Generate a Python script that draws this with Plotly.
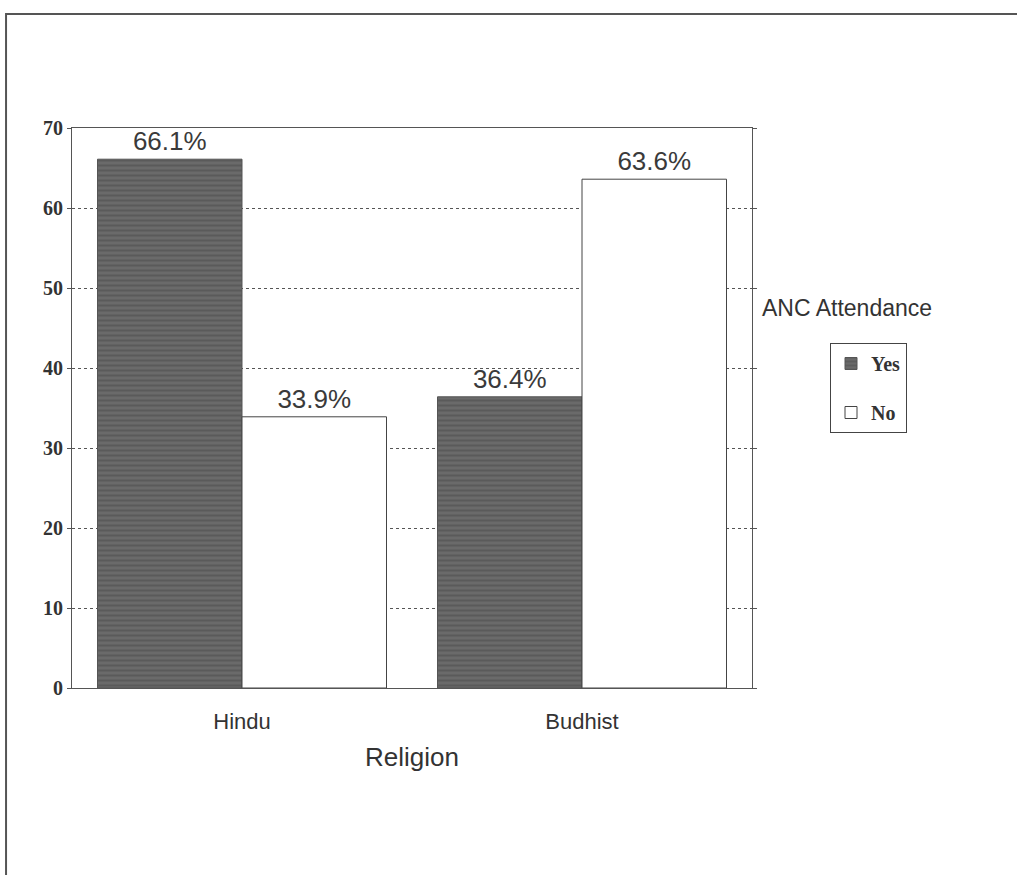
import plotly.graph_objects as go

categories = ["Hindu", "Budhist"]
yes_values = [66.1, 36.4]
no_values = [33.9, 63.6]
yes_labels = ["66.1%", "36.4%"]
no_labels = ["33.9%", "63.6%"]
series_names = ["Yes", "No"]
legend_title = "ANC Attendance"
x_title = "Religion"

fig = go.Figure()
fig.add_trace(go.Bar(
    x=categories, y=yes_values, name=series_names[0], legendgroup="g1",
    text=yes_labels, textposition="outside",
    textfont=dict(family="Liberation Sans, Arial", size=26, color="#3a3a3a"),
    marker=dict(color="#5c5c5c", line=dict(color="#555555", width=1),
                pattern=dict(shape="-", fgcolor="#494949", bgcolor="#6a6a6a", size=5, solidity=0.4)),
    cliponaxis=False,
))
fig.add_trace(go.Bar(
    x=categories, y=no_values, name=series_names[1], legendgroup="g2",
    text=no_labels, textposition="outside",
    textfont=dict(family="Liberation Sans, Arial", size=26, color="#3a3a3a"),
    marker=dict(color="white", line=dict(color="#444444", width=1)),
    cliponaxis=False,
))

fig.update_layout(
    width=1017, height=875,
    margin=dict(l=72, r=265, t=128, b=187),
    paper_bgcolor="white", plot_bgcolor="white",
    barmode="group", bargap=0.15, bargroupgap=0,
    showlegend=True,
    legend=dict(x=(830 - 72) / 680, y=(688 - 343) / 560, xanchor="left", yanchor="top",
                bordercolor="#444444", borderwidth=1, bgcolor="white",
                font=dict(family="Liberation Serif, Times New Roman", size=20, color="#333333", weight="bold"),
                itemwidth=30, tracegroupgap=20, entrywidth=70),
    xaxis=dict(
        showline=True, linecolor="#555555", linewidth=1, mirror=True,
        tickfont=dict(family="Liberation Sans, Arial", size=22, color="#333333"),
        ticks="", ticklabelstandoff=14,
        title=dict(text=x_title, font=dict(family="Liberation Sans, Arial", size=26, color="#333333"), standoff=14),
    ),
    yaxis=dict(
        range=[0, 70], dtick=10,
        showline=True, linecolor="#555555", linewidth=1, mirror="allticks",
        ticks="outside", ticklen=4, tickcolor="#555555",
        tickfont=dict(family="Liberation Serif, Times New Roman", size=20, color="#333333", weight="bold"),
        showgrid=True, gridcolor="#555555", gridwidth=1, griddash="dot",
        zeroline=False,
    ),
    annotations=[dict(
        text=legend_title, xref="paper", yref="paper",
        x=(760 - 72) / 680, y=(688 - 308) / 560, xanchor="left", yanchor="middle",
        showarrow=False,
        font=dict(family="Liberation Sans, Arial", size=23, color="#333333"),
    )],
    shapes=[dict(
        type="path", xref="paper", yref="paper",
        path="M -0.097,-0.4 L -0.097,1.2036 L 1.45,1.2036",
        line=dict(color="#555555", width=2),
    )],
)

fig.write_html("out.html")
